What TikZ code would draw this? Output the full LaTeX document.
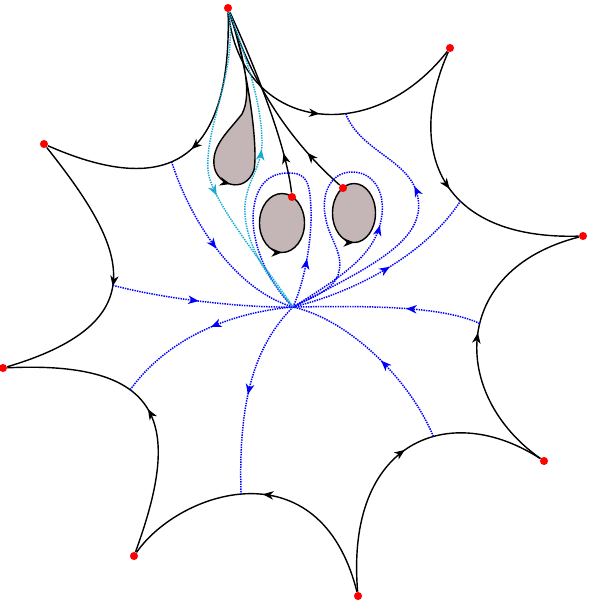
\documentclass[tikz,border=0pt]{standalone}
\usetikzlibrary{arrows.meta,decorations.markings}
\definecolor{hole}{RGB}{196,182,182}
\definecolor{sepcyan}{RGB}{25,170,215}
\tikzset{
  vertex/.style={circle, fill=red, inner sep=0pt, minimum size=4.6pt},
  wall/.style={black, line width=0.8pt},
  field/.style={blue, line width=0.85pt, dash pattern=on 0.8pt off 0.6pt},
  cyanfield/.style={field, sepcyan},
  midarrow/.style={postaction={decorate, decoration={markings, mark=at position #1 with {\arrow{Stealth[length=6pt,width=4.8pt,inset=1.8pt]}}}}},
  backarrow/.style={postaction={decorate, decoration={markings, mark=at position #1 with {\arrowreversed{Stealth[length=6pt,width=4.8pt,inset=1.8pt]}}}}}
}
\begin{document}
\begin{tikzpicture}[x=0.02cm, y=-0.02cm]
\useasboundingbox (0,0) rectangle (601,600);

% holes
\draw[wall, fill=hole, backarrow=0.25] (282,223) ellipse [x radius=22.5, y radius=29.5];
\draw[wall, fill=hole, backarrow=0.25] (354,213) ellipse [x radius=21.5, y radius=29.5];

\node[vertex] (V1) at (228,8)   {};
\node[vertex] (V2) at (450,48)  {};
\node[vertex] (V3) at (583,236) {};
\node[vertex] (V4) at (544,461) {};
\node[vertex] (V5) at (358,596) {};
\node[vertex] (V6) at (134,556) {};
\node[vertex] (V7) at (3,368)   {};
\node[vertex] (V8) at (44,144)  {};
\node[vertex] (P1) at (292,197) {};
\node[vertex] (P2) at (343,188) {};
\coordinate (O) at (293,307);

% outer boundary
\draw[wall, midarrow=0.5] (V1) .. controls (240,130) and (370,150) .. (V2) coordinate[pos=0.62] (a8);
\draw[wall, midarrow=0.5] (V2) .. controls (405,150) and (440,240) .. (V3) coordinate[pos=0.6] (a7);
\draw[wall, midarrow=0.5] (V4) .. controls (450,395) and (450,270) .. (V3) coordinate[pos=0.55] (a6);
\draw[wall, midarrow=0.52] (V5) .. controls (345,440) and (450,400) .. (V4) coordinate[pos=0.6] (a5);
\draw[wall, midarrow=0.5] (V5) .. controls (320,445) and (180,490) .. (V6) coordinate[pos=0.53] (a4);
\draw[wall, midarrow=0.49] (V6) .. controls (180,430) and (170,360) .. (V7) coordinate[pos=0.63] (a3);
\draw[wall, midarrow=0.53] (V8) .. controls (120,240) and (165,320) .. (V7) coordinate[pos=0.55] (a2);
\draw[wall, midarrow=0.49] (V1) .. controls (232,170) and (160,195) .. (V8) coordinate[pos=0.55] (a1);

% tear and the lines to the marked points
\draw[wall, fill=hole, midarrow=0.5] (V1) .. controls (245,60) and (252,95) .. (242,114)
  .. controls (228,132) and (212,145) .. (214,165)
  .. controls (216,185) and (245,195) .. (254,170)
  .. controls (258,150) and (250,75) .. (V1);
\draw[wall, midarrow=0.21] (P1) .. controls (288,160) and (270,100) .. (V1);
\draw[wall, midarrow=0.22] (P2) .. controls (300,150) and (255,95) .. (V1);

% field lines
\draw[field, midarrow=0.5] (a1) .. controls (190,220) and (235,290) .. (O);
\draw[field, midarrow=0.48] (a2) .. controls (160,298) and (240,308) .. (O);
\draw[field, midarrow=0.45] (O) .. controls (235,312) and (170,335) .. (a3);
\draw[field, midarrow=0.5] (O) .. controls (255,345) and (238,400) .. (a4);
\draw[field, midarrow=0.47] (a5) .. controls (410,380) and (350,320) .. (O);
\draw[field, midarrow=0.4] (a6) .. controls (440,305) and (360,306) .. (O);
\draw[field, midarrow=0.52] (O) .. controls (355,292) and (425,255) .. (a7);
\draw[field, midarrow=0.65] (O) .. controls (375,265) and (425,240) .. (418,198)
  .. controls (412,160) and (360,152) .. (a8);
\draw[field, midarrow=0.16] (O) .. controls (303,285) and (312,245) .. (311,210)
  .. controls (310,180) and (306,173) .. (288,173)
  .. controls (262,173) and (253,195) .. (253,220)
  .. controls (254,255) and (275,290) .. (O);
\draw[field, midarrow=0.33] (O) .. controls (345,275) and (372,255) .. (380,225)
  .. controls (388,195) and (375,172) .. (352,172)
  .. controls (330,172) and (320,195) .. (326,220)
  .. controls (330,240) and (345,255) .. (338,275)
  .. controls (332,292) and (305,300) .. (O);
\draw[cyanfield, midarrow=0.58] (V1) .. controls (238,70) and (205,125) .. (208,170)
  .. controls (210,200) and (265,265) .. (O);
\draw[cyanfield, midarrow=0.55] (O) .. controls (265,275) and (243,240) .. (245,205)
  .. controls (247,180) and (263,165) .. (262,140)
  .. controls (261,100) and (245,55) .. (V1);
\end{tikzpicture}
\end{document}
